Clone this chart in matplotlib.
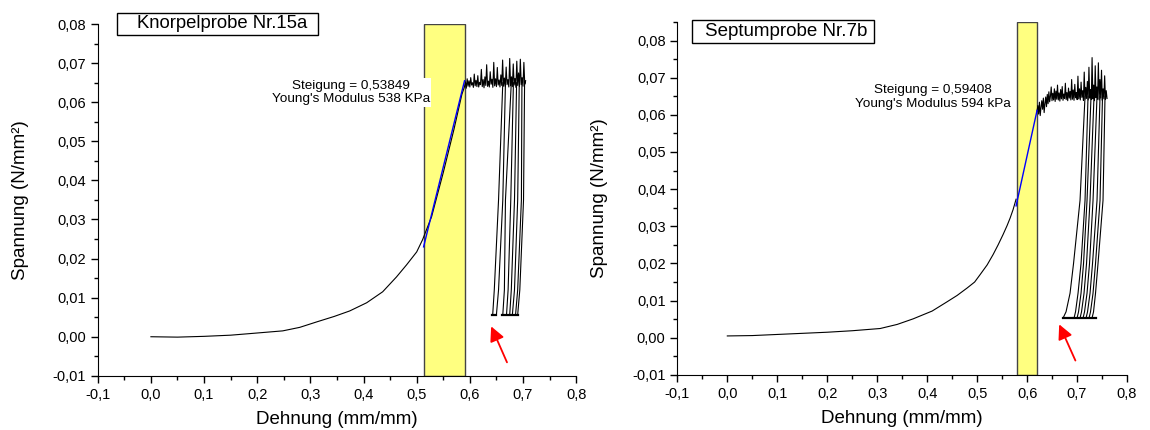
import numpy as np
import matplotlib
matplotlib.use("Agg")
import matplotlib.pyplot as plt
from matplotlib.patches import Rectangle
from matplotlib.ticker import MultipleLocator

plt.rcParams["font.family"] = ["Liberation Sans", "DejaVu Sans"]

# ---------------- data, left sample ----------------
left_title = "Knorpelprobe Nr.15a"
left_text = "Steigung = 0,53849\nYoung's Modulus 538 KPa"
left_curve_x = [0.0, 0.05, 0.1, 0.15, 0.186, 0.248, 0.28, 0.312, 0.345, 0.374, 0.406, 0.436,
                0.462, 0.481, 0.5, 0.511, 0.528, 0.55, 0.57, 0.585, 0.59]
left_curve_y = [0.0, -0.0001, 0.0001, 0.0004, 0.0008, 0.0015, 0.0024, 0.0038, 0.0052, 0.0066,
                0.0087, 0.0115, 0.0153, 0.0184, 0.0217, 0.0248, 0.0307, 0.042, 0.053, 0.062, 0.064]
left_fit_x = [0.513, 0.59]
left_fit_y = [0.023, 0.0655]
left_band = [0.513, 0.590]
left_plateau_y = [64.0, 65.2, 63.6, 66.0, 64.1, 65.5, 63.9, 66.3, 64.4, 65.0, 63.8, 67.2, 64.2,
                  65.6, 64.0, 66.8, 63.9, 65.1, 64.5, 68.4, 64.0, 65.8, 63.7, 66.5, 64.3, 69.6,
                  64.1, 65.4, 63.9, 67.8, 64.6, 65.9, 63.8, 70.2, 64.2, 66.0, 64.0, 68.9, 64.4,
                  65.7, 63.9, 67.0, 64.3, 70.8, 64.1, 66.2, 64.0, 69.0, 64.5, 65.8, 63.9, 71.2,
                  64.2, 66.5, 64.0, 69.8, 64.4, 66.1, 63.8, 70.5, 64.3, 67.5, 64.0, 71.0, 64.5,
                  66.3, 64.1, 70.2, 64.6, 65.5]
left_plateau_range = [0.59, 0.705]
left_drop_y = [0.065, 0.035, 0.012, 0.0056]
left_drops_x = [
    [0.662, 0.654, 0.646, 0.643],
    [0.667, 0.662, 0.654, 0.650],
    [0.678, 0.667, 0.665, 0.662],
    [0.682, 0.677, 0.672, 0.669],
    [0.688, 0.684, 0.678, 0.675],
    [0.693, 0.690, 0.684, 0.680],
    [0.698, 0.697, 0.690, 0.686],
    [0.703, 0.701, 0.694, 0.690],
]
left_flats = [(0.641, 0.650), (0.661, 0.691)]
left_arrow_tip = (0.638, 0.0033)
left_arrow_tail = (0.672, -0.0072)

# ---------------- data, right sample ----------------
right_title = "Septumprobe Nr.7b"
right_text = "Steigung = 0,59408\nYoung's Modulus 594 kPa"
right_curve_x = [0.0, 0.05, 0.1, 0.15, 0.2, 0.25, 0.306, 0.34, 0.372, 0.41, 0.44, 0.46, 0.48,
                 0.495, 0.506, 0.52, 0.532, 0.542, 0.552, 0.56, 0.566, 0.572, 0.578]
right_curve_y = [0.0005, 0.0006, 0.0009, 0.0012, 0.0015, 0.0019, 0.0025, 0.0036, 0.0051,
                 0.0072, 0.0097, 0.0114, 0.0134, 0.015, 0.017, 0.0196, 0.0224, 0.025, 0.0278,
                 0.0302, 0.0322, 0.0345, 0.0373]
right_fit_x = [0.578, 0.62]
right_fit_y = [0.0355, 0.0612]
right_band = [0.579, 0.620]
right_plateau_y = [61.0, 62.5, 60.2, 63.4, 59.8, 62.0, 63.8, 61.5, 64.5, 60.6, 63.0, 64.8, 62.2,
                   65.5, 63.0, 66.2, 63.5, 65.0, 67.5, 63.8, 65.8, 64.0, 67.0, 63.6, 66.4, 64.2,
                   68.0, 64.0, 65.9, 63.7, 66.8, 64.3, 67.6, 63.9, 65.6, 64.4, 68.5, 64.1, 66.0,
                   63.8, 67.2, 64.5, 66.3, 64.0, 69.5, 64.2, 66.7, 63.9, 68.2, 64.6, 66.0, 64.1,
                   70.4, 64.3, 67.0, 64.0, 68.8, 64.7, 66.5, 63.9, 71.5, 64.2, 67.4, 64.4, 69.0,
                   64.0, 72.8, 64.5, 66.8, 64.1, 75.4, 64.3, 68.0, 63.8, 73.2, 64.6, 67.5, 64.2,
                   74.0, 64.0, 69.5, 64.5, 72.0, 63.9, 67.0, 64.3, 70.5, 64.1, 66.5, 64.4]
right_plateau_range = [0.62, 0.76]
right_drop_y = [0.065, 0.037, 0.02, 0.012, 0.007, 0.0053]
right_drops_x = [
    [0.716, 0.706, 0.693, 0.686, 0.678, 0.672],
    [0.722, 0.716, 0.708, 0.702, 0.697, 0.694],
    [0.728, 0.720, 0.713, 0.708, 0.703, 0.700],
    [0.734, 0.726, 0.719, 0.714, 0.709, 0.706],
    [0.740, 0.732, 0.725, 0.720, 0.715, 0.712],
    [0.746, 0.740, 0.731, 0.726, 0.721, 0.718],
    [0.751, 0.746, 0.737, 0.732, 0.727, 0.724],
    [0.756, 0.752, 0.742, 0.737, 0.733, 0.730],
]
right_flats = [(0.671, 0.690), (0.694, 0.737)]
right_arrow_tip = (0.662, 0.0043)
right_arrow_tail = (0.699, -0.0068)

x_ticks = [-0.1, 0.0, 0.1, 0.2, 0.3, 0.4, 0.5, 0.6, 0.7, 0.8]
x_ticklabels = ["-0,1", "0,0", "0,1", "0,2", "0,3", "0,4", "0,5", "0,6", "0,7", "0,8"]
y_ticks = [-0.01, 0.0, 0.01, 0.02, 0.03, 0.04, 0.05, 0.06, 0.07, 0.08]
y_ticklabels = ["-0,01", "0,00", "0,01", "0,02", "0,03", "0,04", "0,05", "0,06", "0,07", "0,08"]


def draw(ax, curve_x, curve_y, fit_x, fit_y, band, plat_range, plat_y, drop_y, drops_x,
         flats, tip, tail, text, text_xy, ytop):
    ax.axvspan(band[0], band[1], ymin=0, ymax=1, facecolor="#ffff80", edgecolor="#444444",
               lw=1.0, zorder=1)
    ax.plot(curve_x, curve_y, color="black", lw=0.8, zorder=3)
    px = np.linspace(plat_range[0], plat_range[1], len(plat_y))
    ax.plot(px, np.array(plat_y) / 1000.0, color="black", lw=0.8, zorder=3)
    for dx in drops_x:
        ax.plot(dx, drop_y, color="black", lw=0.8, zorder=3)
    for f in flats:
        ax.plot(f, [drop_y[-1], drop_y[-1]], color="black", lw=1.6, zorder=3)
    ax.plot(fit_x, fit_y, color="blue", lw=1.0, zorder=4)
    ax.annotate("", xy=tip, xytext=tail,
                arrowprops=dict(arrowstyle="-|>", color="red", lw=1.3, mutation_scale=22))
    ax.text(text_xy[0], text_xy[1], text, ha="center", va="center", fontsize=9.7,
            linespacing=1.2, zorder=5,
            bbox=dict(facecolor="white", edgecolor="none", pad=1))

    ax.set_xlim(-0.1, 0.8)
    ax.set_ylim(-0.01, ytop)
    ax.set_xticks(x_ticks, x_ticklabels)
    ax.set_yticks(y_ticks, y_ticklabels)
    ax.xaxis.set_minor_locator(MultipleLocator(0.05))
    ax.yaxis.set_minor_locator(MultipleLocator(0.005))
    ax.tick_params(which="major", direction="out", length=5, width=1, labelsize=10.5)
    ax.tick_params(which="minor", direction="out", length=3, width=1)
    ax.spines["top"].set_visible(False)
    ax.spines["right"].set_visible(False)
    ax.set_xlabel("Dehnung (mm/mm)", fontsize=13.5, labelpad=7)
    ax.set_ylabel("Spannung (N/mm²)", fontsize=13.5, labelpad=17)


fig = plt.figure(figsize=(11.5, 4.3), dpi=100)
ax1 = fig.add_axes([0.085, 0.126, 0.416, 0.818])
ax2 = fig.add_axes([0.589, 0.128, 0.391, 0.821])

draw(ax1, left_curve_x, left_curve_y, left_fit_x, left_fit_y, left_band, left_plateau_range,
     left_plateau_y, left_drop_y, left_drops_x, left_flats, left_arrow_tip, left_arrow_tail,
     left_text, (0.376, 0.0625), 0.08)
draw(ax2, right_curve_x, right_curve_y, right_fit_x, right_fit_y, right_band,
     right_plateau_range, right_plateau_y, right_drop_y, right_drops_x, right_flats,
     right_arrow_tip, right_arrow_tail, right_text, (0.412, 0.0647), 0.085)

# title boxes (box wider on the left than the text, as in the original)
fig.patches.append(Rectangle((0.1017, 0.9186), 0.1748, 0.0512, transform=fig.transFigure,
                             facecolor="white", edgecolor="black", lw=1))
fig.text(0.1191, 0.9442, left_title, ha="left", va="center", fontsize=13.3)
fig.patches.append(Rectangle((0.6017, 0.900), 0.1583, 0.0535, transform=fig.transFigure,
                             facecolor="white", edgecolor="black", lw=1))
fig.text(0.613, 0.9267, right_title, ha="left", va="center", fontsize=13.5)

fig.savefig("out.png", dpi=100)
